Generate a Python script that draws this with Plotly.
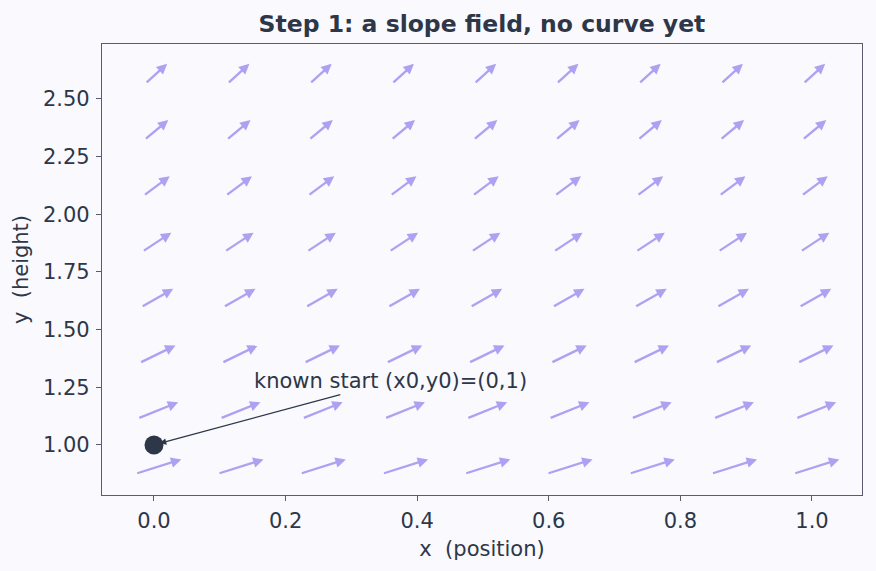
import numpy as np
import plotly.graph_objects as go

# grid of slope-field sample points
grid_x = [0.0, 0.125, 0.25, 0.375, 0.5, 0.625, 0.75, 0.875, 1.0]
grid_y = [0.9, 1.143, 1.386, 1.629, 1.871, 2.114, 2.357, 2.6]
start_x = [0.0]
start_y = [1.0]
x_ticks = [0.0, 0.2, 0.4, 0.6, 0.8, 1.0]
y_ticks = [1.00, 1.25, 1.50, 1.75, 2.00, 2.25, 2.50]


def slope(x, y):
    # ODE: dy/dx = y
    return y


ARROW_LEN = 0.093
ARROW_COLOR = "rgba(155,140,240,0.8)"
DARK = "#2d3748"
BG = "#f9f9fe"
FS = 21

fig = go.Figure()

annotations = []
for yv in grid_y:
    for xv in grid_x:
        m = slope(xv, yv)
        n = np.hypot(1.0, m)
        ux, uy = 1.0 / n, m / n
        annotations.append(dict(
            x=xv + 0.6 * ARROW_LEN * ux, y=yv + 0.6 * ARROW_LEN * uy,
            ax=xv - 0.4 * ARROW_LEN * ux, ay=yv - 0.4 * ARROW_LEN * uy,
            xref="x", yref="y", axref="x", ayref="y",
            text="", showarrow=True, arrowhead=2, arrowsize=0.9,
            arrowwidth=2.3, arrowcolor=ARROW_COLOR, standoff=0,
        ))

fig.add_trace(go.Scatter(
    x=start_x, y=start_y, mode="markers",
    marker=dict(size=19, color=DARK), showlegend=False, hoverinfo="skip",
))

annotations.append(dict(
    x=start_x[0], y=start_y[0], ax=0.359, ay=1.277,
    xref="x", yref="y", axref="x", ayref="y",
    text="known start (x0,y0)=(0,1)", showarrow=True,
    arrowhead=2, arrowsize=1.0, arrowwidth=1.3, arrowcolor=DARK,
    standoff=6, font=dict(size=FS, color=DARK, family="DejaVu Sans"),
))

fig.update_layout(
    width=876, height=571,
    margin=dict(l=102, r=14, t=44, b=76),
    paper_bgcolor=BG, plot_bgcolor=BG,
    font=dict(family="DejaVu Sans", color=DARK, size=FS),
    title=dict(text="<b>Step 1: a slope field, no curve yet</b>",
               x=0.5502, xanchor="center", y=0.958, yanchor="middle",
               font=dict(size=23.5, color=DARK)),
    annotations=annotations,
    showlegend=False,
)

axis_common = dict(
    showline=True, mirror=True, linecolor="#5b5b6e", linewidth=1.3,
    ticks="outside", ticklen=5, tickcolor="#5b5b6e", tickwidth=1.3,
    showgrid=False, zeroline=False, ticklabelstandoff=2,
    tickfont=dict(size=FS, color=DARK),
)
fig.update_xaxes(range=[-0.079, 1.076], tickvals=x_ticks,
                 ticktext=[f"{v:.1f}" for v in x_ticks],
                 title=dict(text="x  (position)", font=dict(size=FS), standoff=8),
                 **axis_common)
fig.update_yaxes(range=[0.783, 2.738], tickvals=y_ticks,
                 ticktext=[f"{v:.2f}" for v in y_ticks],
                 title=dict(text="y  (height)", font=dict(size=FS), standoff=8),
                 **axis_common)

fig.write_html("out.html")
